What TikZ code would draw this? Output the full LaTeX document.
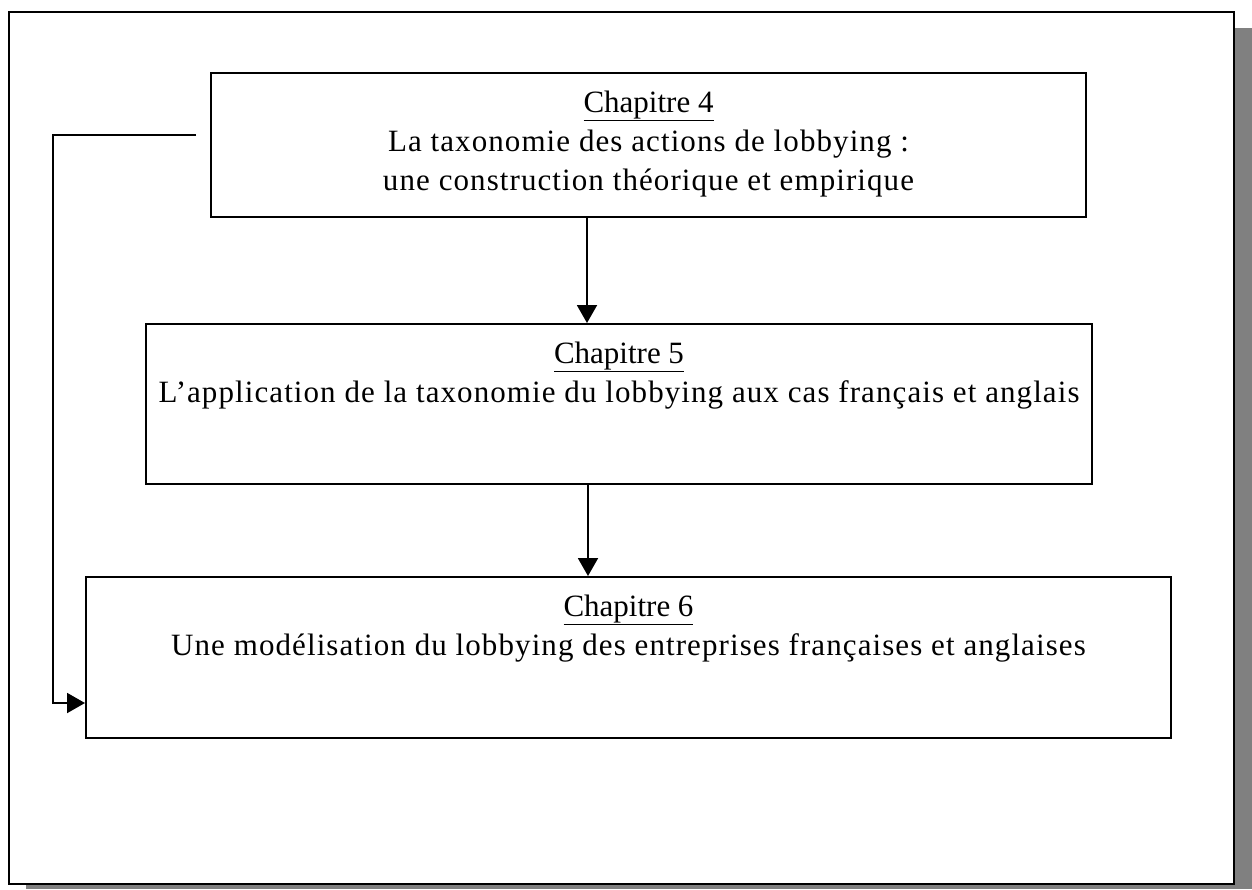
\documentclass[tikz,border=0pt]{standalone}
\usepackage{fontspec}
\setmainfont{Liberation Serif}
\newfontfamily\spacedfont[LetterSpace=3.5]{Liberation Serif}
\usetikzlibrary{arrows.meta}
\tikzset{
  chapbox/.style={draw=black, line width=2pt, fill=white, inner sep=0pt, anchor=north west},
  conn/.style={draw=black, line width=2pt, -{Triangle[width=20pt,length=18pt]}},
}
\newcommand{\boxtext}[4]{\parbox[c][#2][t]{#1}{\centering\fontsize{31}{39}\selectfont\vspace*{18pt}\underline{#3}\\{\spacedfont #4}\par}}
\begin{document}
\begin{tikzpicture}[x=1pt,y=-1pt]
\useasboundingbox (0,0) rectangle (1252,889);
% shadow and frame
\fill[black!50] (26,28) rectangle (1252,889);
\draw[line width=2.5pt, fill=white] (9,12) rectangle (1234,884);
% boxes
\node[chapbox] (b1) at (210,72) {\boxtext{875pt}{144pt}{Chapitre 4}{La taxonomie des actions de lobbying :\\une construction théorique et empirique}};
\node[chapbox] (b2) at (145,323) {\boxtext{946pt}{160pt}{Chapitre 5}{L’application de la taxonomie du lobbying aux cas français et anglais}};
\node[chapbox] (b3) at (85,576) {\boxtext{1085pt}{161pt}{Chapitre 6}{Une modélisation du lobbying des entreprises françaises et anglaises}};
% connectors
\coordinate (a1) at (587,0);
\coordinate (a2) at (588,0);
\coordinate (fb) at (196,135);
\coordinate (fbturn) at (53,703);
\draw[conn] (b1.south -| a1) -- (b2.north -| a1);
\draw[conn] (b2.south -| a2) -- (b3.north -| a2);
\draw[conn] (fb) -| (fbturn) -- (b3.west |- fbturn);
\end{tikzpicture}
\end{document}
